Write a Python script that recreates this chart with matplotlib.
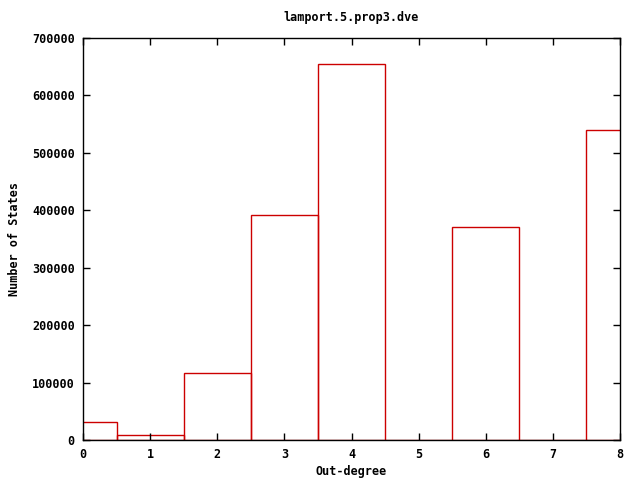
import matplotlib
matplotlib.use("Agg")
import matplotlib.pyplot as plt

degrees = [0, 1, 2, 3, 4, 5, 6, 7, 8]
states = [31000, 9000, 117000, 392000, 654000, 0, 371000, 0, 539000]
xticks = [0, 1, 2, 3, 4, 5, 6, 7, 8]
yticks = [0, 100000, 200000, 300000, 400000, 500000, 600000, 700000]

plt.rcParams['font.family'] = ['DejaVu Sans Mono']
plt.rcParams['font.weight'] = 'bold'
plt.rcParams['font.size'] = 8

fig = plt.figure(figsize=(6.4, 4.8), dpi=100)
ax = fig.add_axes([83/640, 40/480, (620-83)/640, (440-38)/480])
ax.bar(degrees, states, width=1.0, align='center', fill=False,
       edgecolor='#cc0000', linewidth=1.0)
ax.set_xlim(0, 8)
ax.set_ylim(0, 700000)
ax.set_xticks(xticks)
ax.set_yticks(yticks)
ax.set_xticklabels([str(t) for t in xticks])
ax.set_yticklabels([str(t) for t in yticks])
ax.tick_params(direction='in', top=True, right=True, length=5, width=1, labelsize=8.5)
ax.tick_params(axis='x', pad=6)
ax.tick_params(axis='y', pad=6)
for s in ax.spines.values():
    s.set_linewidth(1.0)
fig.text(351/640, 1 - 472/480, 'Out-degree', fontsize=8.5, fontweight='bold',
         ha='center', va='center')
fig.text(15/640, 1 - 239/480, 'Number of States', fontsize=8.5, fontweight='bold',
         ha='center', va='center', rotation=90)
fig.text(351/640, 1 - 18/480, 'lamport.5.prop3.dve', fontsize=8.5, fontweight='bold',
         ha='center', va='center')
fig.savefig('out.png', dpi=100)
